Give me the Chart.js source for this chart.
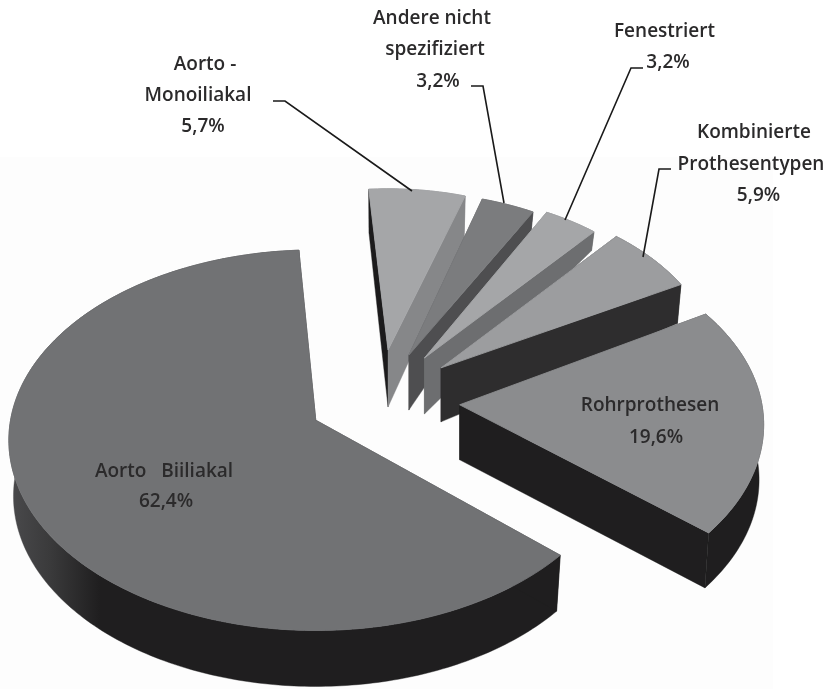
<!DOCTYPE html>
<html><head><meta charset="utf-8">
<style>html,body{margin:0;padding:0;background:#fff}canvas{display:block}</style>
<script src="https://cdn.jsdelivr.net/npm/chart.js@4"></script>
</head><body><canvas id="c" width="828" height="689"></canvas>
<script>
// Data (percent), order clockwise
const categories=["Aorto Biiliakal","Aorto - Monoiliakal","Andere nicht spezifiziert","Fenestriert","Kombinierte Prothesentypen","Rohrprothesen"];
const shares=[62.4,5.7,3.2,3.2,5.9,19.6];
// Look of each slice
const faceColors=["#717274","#a5a6a8","#7b7c7e","#a5a6a8","#9c9d9f","#8b8c8e"];
const endWallColors=["#1f1e1f","#868789","#4e4e50","#6d6e70","#2e2d2e","#1f1e1f"];
const startWallColors=["#1f1e1f","#1c1b1c","#4e4e50","#6d6e70","#2e2d2e","#1f1e1f"];
// 3D projection settings of each slice
const explode=[72,81,78,81,80,80];
const radiusScale=[1.062,0.90,0.907,0.917,0.952,1.052];
const rimDrop=[20,0,0,0,0,20];
const startAdjust=[-3.6,0.3,0.3,0,0.6,-6.2];
const endAdjust=[1.4,1.3,0.8,0.8,0.5,-5.8];
const apexDepth=[55,57,55,56,54,55];
const rimDepth=[56,44,19,19,39,55];
const paintOrder=[1,2,3,4,0,5];
const squash=0.62, bottomShrink=0.985;
// Label texts and placement
const labelBlocks=[
 {lines:[["Aorto   Biiliakal",164,477],["62,4%",166,507]]},
 {lines:[["Aorto -",205,70],["Monoiliakal",198,101],["5,7%",203,132]]},
 {lines:[["Andere nicht",432,24],["spezifiziert",435,55],["3,2%",438,87]]},
 {lines:[["Fenestriert",664.5,37],["3,2%",668,68]]},
 {lines:[["Kombinierte",754,138],["Prothesentypen",751,170],["5,9%",758.5,201]]},
 {lines:[["Rohrprothesen",650,411],["19,6%",656,443]]}
];
const leaders=[
 [[273,101],[285,101],[412,191]],
 [[471,86],[483,86],[504,203]],
 [[643,68],[631,68],[565,220]],
 [[671,169],[659,169],[643,257]]
];
const deg=Math.PI/180;
const pie3d={
 id:'pie3d',
 beforeDraw(chart){
  const c=chart.ctx;
  c.save();c.fillStyle='#fff';c.fillRect(0,0,828,689);
  c.fillStyle='#fdfdfd';c.fillRect(0,157,773,532);c.restore();
 },
 beforeDatasetsDraw(chart){
  const c=chart.ctx, arcs=chart.getDatasetMeta(0).data;
  for(const i of paintOrder){
   const a=arcs[i].getProps(['x','y','startAngle','endAngle','outerRadius'],true);
   const m=(a.startAngle+a.endAngle)/2;
   const ax=a.x+explode[i]*Math.cos(m), ay=a.y+explode[i]*squash*Math.sin(m);
   const rx=a.outerRadius*radiusScale[i], ry=rx*squash, ey=ay+rimDrop[i];
   const s=a.startAngle+startAdjust[i]*deg, e=a.endAngle+endAdjust[i]*deg;
   const rim=[];const n=Math.ceil((e-s)/deg);
   for(let k=0;k<=n;k++){const t=s+(e-s)*k/n;rim.push([ax+rx*Math.cos(t),ey+ry*Math.sin(t)]);}
   const low=p=>[ax+(p[0]-ax)*bottomShrink,p[1]+rimDepth[i]];
   const apexLow=[ax,ay+apexDepth[i]];
   const poly=(pts,fill,seal)=>{c.beginPath();pts.forEach((p,j)=>j?c.lineTo(p[0],p[1]):c.moveTo(p[0],p[1]));c.closePath();c.fillStyle=fill;c.fill();
    c.strokeStyle=fill;c.lineWidth=seal;c.stroke();};
   // outer rim strip
   let fill=endWallColors[i];
   if(i===0){
    const g=c.createLinearGradient(10,0,100,0);
    g.addColorStop(0,'#4a4a4c');g.addColorStop(0.45,'#3a3a3b');g.addColorStop(1,'#1f1e1f');
    fill=g;
   }
   poly(rim.concat(rim.map(low).reverse()),fill,0.4);
   // cut walls
   const f=rim[0], l=rim[rim.length-1];
   poly([[ax,ay],f,low(f),apexLow],startWallColors[i],0.4);
   poly([[ax,ay],l,low(l),apexLow],endWallColors[i],0.4);
   // top face
   poly([[ax,ay]].concat(rim),faceColors[i],0.9);
  }
  return false;
 },
 afterDraw(chart){
  const c=chart.ctx;
  c.save();
  c.strokeStyle='#1a1a1a';c.lineWidth=1.6;c.lineJoin='miter';
  for(const pts of leaders){c.beginPath();pts.forEach((p,j)=>j?c.lineTo(p[0],p[1]):c.moveTo(p[0],p[1]));c.stroke();}
  c.fillStyle='#2b2a2b';c.textAlign='center';c.textBaseline='alphabetic';
  c.font='600 19px "Open Sans", Lato, sans-serif';
  for(const b of labelBlocks)for(const [t,x,y] of b.lines)c.fillText(t,x,y);
  c.restore();
 }
};
new Chart(document.getElementById('c'),{
 type:'pie',
 data:{labels:categories,datasets:[{data:shares,backgroundColor:faceColors,borderWidth:0}]},
 options:{
  responsive:false,animation:false,rotation:130.8,
  layout:{padding:{left:0,right:68,top:111,bottom:0}},
  plugins:{legend:{display:false},tooltip:{enabled:false}}
 },
 plugins:[pie3d]
});
</script></body></html>
